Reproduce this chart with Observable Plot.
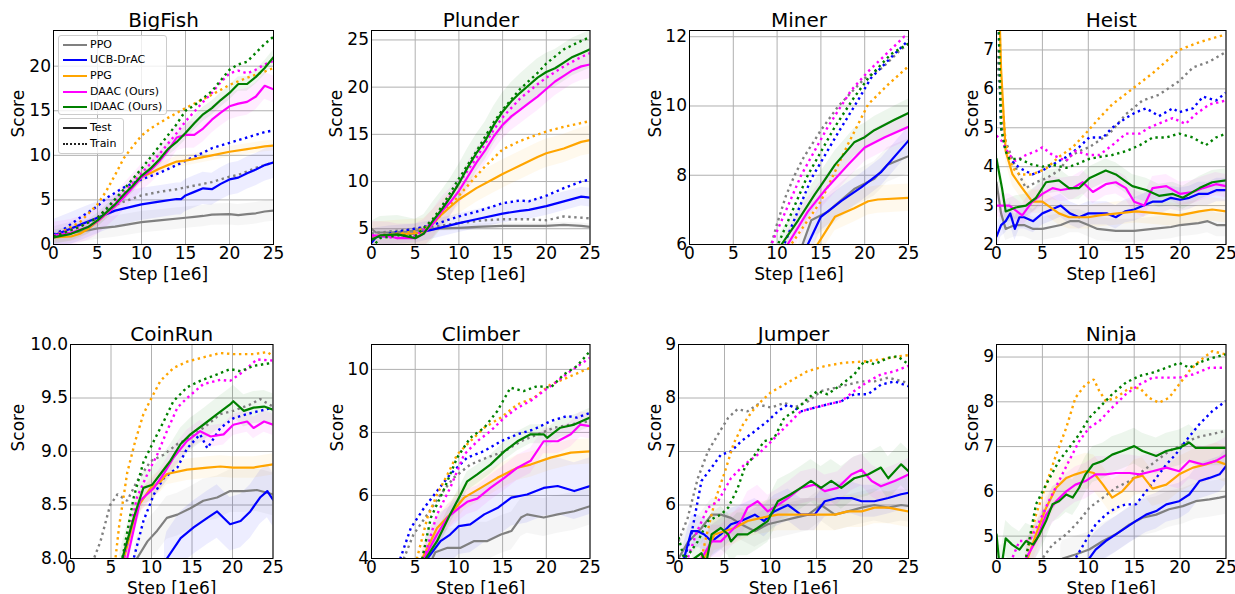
<!DOCTYPE html>
<html><head><meta charset="utf-8">
<script src="https://cdn.jsdelivr.net/npm/d3@7"></script>
<script src="https://cdn.jsdelivr.net/npm/@observablehq/plot@0.6"></script>
<style>
html,body{margin:0;padding:0;background:#fff;}
#chart{position:relative;width:1235px;height:594px;overflow:hidden;font-family:"DejaVu Sans",sans-serif;}
#chart svg{position:absolute;}
.lg{position:absolute;border:1px solid #cccccc;border-radius:3px;background:rgba(255,255,255,0.8);box-sizing:border-box;}
.lgrow{position:absolute;left:0;height:14px;line-height:14px;font-size:11px;white-space:nowrap;color:#000;}
.sw{position:absolute;left:4px;top:6px;width:24px;height:0;}
.lt{position:absolute;left:31px;top:0;}
</style></head><body><div id="chart"></div><script>
const methods = ["PPO","UCB-DrAC","PPG","DAAC (Ours)","IDAAC (Ours)"];
const keys = ["PPO","UCB","PPG","DAAC","IDAAC"];
const methodColors = ["#808080","#0000ff","#ffa500","#ff00ff","#008000"];
const stepTicks = [0,5,10,15,20,25];

// ---------------- BigFish ----------------
const bigFishTest = {
 PPO:[[0,0.8],[2,1.3],[4,1.6],[5,1.8],[7,2.0],[10,2.5],[12,2.7],[15,3.0],[16,3.1],[17,3.2],[18,3.35],[20,3.4],[21,3.3],[22,3.4],[23,3.5],[24,3.7],[25,3.8]],
 UCB:[[0,1.0],[2,1.8],[3,2.2],[5,3.0],[7,3.8],[10,4.5],[12,4.8],[14,5.1],[14.5,5.1],[15,5.5],[16,5.9],[17,6.3],[18,6.2],[19,6.8],[20,7.3],[21,7.5],[22,8.0],[23,8.4],[24,8.9],[25,9.2]],
 PPG:[[0,0.8],[2,0.9],[3,1.2],[4,1.8],[5,2.6],[7,4.3],[8,5.4],[9,6.5],[10,7.6],[11,8.0],[12,8.5],[13,8.9],[14,9.3],[15,9.4],[17,9.8],[18,10.0],[20,10.4],[22,10.7],[24,11.0],[25,11.1]],
 DAAC:[[0,1.0],[2,1.3],[4,2.0],[5,2.6],[7,4.3],[8,5.3],[9,6.4],[10,7.5],[11,8.3],[12,9.3],[13,10.5],[14,12.0],[15,12.3],[16,12.3],[17,13.0],[18,14.0],[19,14.8],[20,15.5],[21,15.8],[22,16.0],[23,16.6],[24,17.8],[25,17.4]],
 IDAAC:[[0,0.8],[2,1.2],[4,2.0],[5,2.7],[7,4.5],[8,5.6],[9,6.6],[10,7.7],[11,8.5],[12,9.5],[13,10.7],[14,11.5],[15,12.5],[16,13.6],[17,14.6],[18,15.3],[19,16.2],[20,17.0],[21,18.0],[22,18.0],[23,18.8],[24,19.8],[25,21.0]]
};
const bigFishTrain = {
 PPO:[[0,0.8],[3,2.0],[5,3.0],[6,3.9],[7,4.4],[8,4.8],[10,5.5],[12,5.9],[14,6.2],[15,6.4],[17,6.8],[18,7.0],[20,7.6],[21,7.8],[22,8.2],[23,8.6],[24,8.9],[25,9.2]],
 UCB:[[0,1.1],[1,1.6],[3,3.0],[5,4.3],[6,5.2],[8,6.4],[10,7.3],[12,8.0],[14,8.9],[15,9.4],[17,10.3],[18,10.8],[20,11.4],[22,12.0],[24,12.6],[25,12.8]],
 PPG:[[0,0.9],[3,2.5],[5,4.5],[6,6.0],[7,7.8],[8,9.7],[9,11.0],[10,12.2],[11,13.0],[12,13.6],[13,14.2],[15,15.3],[17,16.3],[18,16.8],[20,17.9],[22,18.7],[24,19.4],[25,19.8]],
 DAAC:[[0,1.0],[3,2.0],[5,3.0],[6,4.0],[8,5.8],[10,8.0],[12,10.1],[14,12.5],[15,13.8],[17,16.0],[18,17.0],[19,18.2],[20,19.2],[21,19.5],[22,19.2],[23,19.6],[24,20.2],[25,20.6]],
 IDAAC:[[0,0.9],[3,2.0],[5,3.0],[6,4.0],[8,6.2],[10,8.5],[12,11.0],[14,13.5],[15,15.0],[16,15.6],[17,16.4],[18,17.2],[20,19.6],[21,20.2],[22,20.5],[23,21.5],[24,22.5],[25,23.3]]
};
const bigFishBand = [1.2, 1.8, 0.6, 1.5, 0.8];

// ---------------- Plunder ----------------
const plunderTest = {
 PPO:[[0,5.0],[0.5,4.6],[2,4.6],[4,4.7],[5,4.8],[7,5.0],[10,5.1],[12,5.2],[15,5.3],[18,5.3],[20,5.3],[22,5.4],[24,5.3],[25,5.2]],
 UCB:[[0,3.5],[0.5,4.1],[2,4.3],[5,4.5],[7,4.9],[10,5.6],[12,6.0],[15,6.6],[17,6.9],[18,7.0],[20,7.4],[22,7.9],[24,8.4],[25,8.3]],
 PPG:[[0,4.2],[3,4.4],[5,4.5],[6,4.6],[7,5.5],[8,6.5],[9,7.3],[10,8.1],[12,9.3],[14,10.3],[15,10.8],[17,11.7],[19,12.6],[20,13.0],[22,13.5],[24,14.2],[25,14.4]],
 DAAC:[[0,4.3],[2,4.2],[3,4.0],[5,4.0],[6,4.5],[7,5.5],[8,6.8],[9,7.8],[10,9.0],[11,10.5],[12,12.0],[13,13.3],[14,14.8],[15,16.0],[16,16.9],[17,17.6],[18,18.3],[19,19.0],[20,19.8],[21,20.6],[22,21.2],[23,21.8],[24,22.2],[25,22.4]],
 IDAAC:[[0,3.8],[1,4.3],[3,4.4],[5,4.0],[6,4.5],[7,5.8],[8,7.0],[9,8.3],[10,9.8],[11,11.5],[12,13.0],[13,14.3],[14,16.0],[15,17.4],[16,18.5],[17,19.4],[18,20.2],[19,21.0],[20,21.6],[21,22.0],[22,22.6],[23,23.2],[24,23.6],[25,24.0]]
};
const plunderTrain = {
 PPO:[[0,4.5],[5,5.0],[7,5.2],[10,5.6],[13,5.9],[15,6.0],[18,6.0],[20,5.9],[22,6.3],[25,6.1]],
 UCB:[[0,4.0],[3,4.7],[5,5.0],[7,5.4],[10,6.3],[12,6.8],[15,7.7],[17,8.0],[18,7.9],[20,8.5],[22,9.3],[24,10.0],[25,10.2]],
 PPG:[[0,4.2],[5,4.7],[7,5.5],[8,6.5],[10,8.5],[12,10.6],[13,11.6],[15,13.4],[17,14.3],[20,15.3],[22,15.8],[24,16.2],[25,16.4]],
 DAAC:[[0,4.3],[3,4.0],[5,4.2],[7,5.7],[8,7.0],[10,9.8],[12,12.5],[14,15.5],[15,16.8],[17,18.8],[19,20.3],[20,21.0],[22,22.2],[24,23.2],[25,23.6]],
 IDAAC:[[0,3.0],[1,4.0],[3,4.3],[5,4.2],[7,6.0],[8,7.3],[10,10.3],[12,13.2],[14,16.3],[15,17.6],[17,19.8],[19,21.5],[20,22.5],[22,24.0],[24,24.9],[25,25.3]]
};
const plunderBand = [0.3, 1.0, 1.5, 1.5, 2.0];

// ---------------- Miner ----------------
const minerTest = {
 PPO:[[12.5,5.6],[12.9,6.0],[13.9,6.7],[15.8,6.95],[18.8,7.6],[21.1,7.9],[22.6,8.3],[25,8.55]],
 UCB:[[13,5.6],[13.5,6.0],[15,6.8],[17.3,7.25],[19.6,7.65],[21.9,8.1],[25,9.0]],
 PPG:[[14.2,5.6],[14.6,6.0],[16.6,6.8],[18.8,7.05],[20.4,7.25],[21.5,7.3],[25,7.35]],
 DAAC:[[10.5,5.4],[11.2,6.0],[13.5,6.95],[15.4,7.55],[18.1,8.3],[20,8.8],[22.3,9.1],[25,9.4]],
 IDAAC:[[10,5.6],[10.5,6.0],[12.4,6.7],[14.3,7.45],[15,7.7],[16.6,8.3],[18.8,8.95],[20,9.1],[21.1,9.3],[23.4,9.6],[25,9.8]]
};
const minerTrain = {
 PPO:[[9,5.7],[10,6.6],[11,7.4],[12,8.0],[13,8.5],[14,8.9],[15,9.3],[17,10.0],[20,10.8],[22,11.1],[24,11.6],[25,11.8]],
 UCB:[[10.5,5.7],[10.8,6.0],[13.9,7.9],[16.9,9.2],[19.2,10.15],[20.7,10.8],[23,11.4],[25,11.9]],
 PPG:[[11.3,5.7],[11.6,6.0],[15,7.25],[18.1,8.9],[20.4,10.05],[22.6,10.6],[25,11.15]],
 DAAC:[[9.2,5.7],[9.5,6.1],[12.75,8.0],[15.8,9.4],[18.45,10.45],[20.4,11.0],[24.5,12.0],[25,11.95]],
 IDAAC:[[9.8,5.7],[10.1,6.0],[13.5,8.0],[16.6,9.4],[18.8,10.25],[20.4,10.8],[23,11.5],[25,11.8]]
};
const minerBand = [0.5, 0.4, 0.4, 0.4, 0.4];

// ---------------- Heist ----------------
const heistTest = {
 PPO:[[0,3.6],[0.5,2.8],[1,2.4],[2,2.5],[3,2.5],[4,2.4],[5,2.4],[7,2.5],[8,2.6],[9,2.6],[10,2.5],[11,2.4],[13,2.35],[15,2.35],[17,2.4],[19,2.45],[20,2.5],[22,2.55],[23,2.6],[24,2.5],[25,2.5]],
 UCB:[[0,2.2],[0.5,2.5],[1,2.6],[1.5,2.8],[2,2.4],[2.5,2.7],[3,2.7],[4,2.6],[5,2.8],[6,2.9],[7,3.0],[8,2.8],[9,2.7],[10,2.8],[11,2.8],[12,2.8],[13,2.7],[14,2.85],[15,2.9],[16,3.0],[17,3.1],[18,3.1],[19,3.2],[20,3.15],[21,3.2],[22,3.3],[23,3.3],[24,3.4],[25,3.4]],
 PPG:[[0.2,9],[0.5,6.5],[1,4.4],[1.75,3.8],[2.8,3.45],[3.9,3.1],[5,3.1],[6.8,2.8],[7.9,2.7],[10,2.7],[11.2,2.75],[15.2,2.85],[17.7,2.8],[19.9,2.75],[22.1,2.85],[23.5,2.9],[25,2.85]],
 DAAC:[[0,3.0],[1.4,3.0],[2.8,2.75],[3.9,3.1],[5,3.3],[6.1,3.45],[7,3.4],[8.3,3.45],[9.4,3.6],[10.5,3.35],[11.9,3.55],[13,3.6],[14.1,3.45],[15,3.1],[16.1,3.0],[17,3.45],[18.5,3.5],[20,3.3],[21.4,3.35],[22.5,3.45],[23.9,3.55],[25,3.5]],
 IDAAC:[[0,4.2],[0.6,3.45],[1,2.85],[2.1,2.95],[3.2,3.0],[4.3,3.2],[5.4,3.6],[6.8,3.65],[7.9,3.45],[9,3.45],[10.1,3.7],[11.9,3.9],[13,3.8],[14.8,3.5],[16.3,3.4],[17.7,3.25],[19.2,3.3],[20.3,3.2],[22.1,3.45],[23.5,3.6],[25,3.65]]
};
const heistTrain = {
 PPO:[[0,7.0],[0.5,5.5],[1,4.65],[2.1,3.97],[3.2,3.45],[4.3,3.6],[5.4,3.7],[6.8,3.9],[7.9,4.25],[9,4.4],[10.1,4.5],[12.3,4.85],[14.1,5.35],[15.9,5.7],[17.7,5.85],[19.9,6.2],[21.4,6.55],[23.2,6.7],[25,6.95]],
 UCB:[[0.1,9],[0.5,5.0],[1,4.4],[1.4,4.2],[2.5,3.97],[3.9,3.8],[5,3.9],[6.1,4.05],[7.6,4.25],[9,4.5],[10.1,4.75],[11.6,4.75],[12.6,5.0],[14.1,5.25],[15.2,5.4],[16.3,5.5],[17.7,5.3],[19.2,5.5],[19.9,5.4],[21.4,5.5],[22.5,5.8],[23.9,5.7],[25,5.9]],
 PPG:[[0.2,9],[0.5,6.0],[1,4.6],[1.75,3.97],[2.5,3.8],[3.9,3.8],[5.4,3.95],[6.8,4.25],[8.3,4.5],[9.7,4.85],[11.2,5.25],[12.6,5.6],[14.8,6.0],[17,6.4],[19.9,7.0],[22.1,7.2],[25,7.4]],
 DAAC:[[0,4.8],[0.6,4.65],[1.4,4.3],[2.1,4.15],[3.2,4.3],[4.3,4.4],[5,4.5],[6.1,4.3],[7.6,4.15],[8.6,4.4],[10.1,4.3],[11.2,4.3],[12.6,4.55],[14.1,4.85],[15.6,4.85],[16.6,5.0],[18.1,5.15],[19.2,5.25],[20.6,5.1],[21.7,5.35],[23.2,5.6],[25,5.7]],
 IDAAC:[[0.1,9],[0.5,5.0],[1,4.4],[1.4,4.2],[2.5,4.2],[3.9,4.05],[5,4.0],[6.1,4.05],[7.6,3.97],[8.6,4.05],[10.1,4.2],[11.2,4.25],[12.6,4.3],[14.1,4.4],[15.6,4.55],[17,4.75],[18.5,4.75],[19.9,4.85],[21.4,4.75],[22.8,4.55],[23.9,4.75],[25,4.85]]
};
const heistBand = [0.3, 0.3, 0.3, 0.3, 0.3];

// ---------------- CoinRun ----------------
const coinRunTest = {
 PPO:[[7.9,7.9],[8.2,8.0],[9.5,8.16],[10.7,8.26],[11.9,8.38],[13.2,8.41],[14.8,8.47],[16.4,8.54],[18.1,8.57],[19.7,8.63],[21.4,8.63],[23,8.64],[25,8.6]],
 UCB:[[11.6,7.9],[11.9,8.0],[13.6,8.19],[15.2,8.29],[16.9,8.38],[18.1,8.44],[19.7,8.32],[21,8.35],[22.2,8.44],[23.4,8.57],[24.3,8.63],[25,8.55]],
 PPG:[[6.3,7.9],[6.6,8.0],[8.2,8.47],[9.9,8.66],[11.1,8.72],[11.9,8.79],[14.4,8.83],[16.9,8.85],[18.5,8.86],[20.1,8.85],[22.6,8.85],[25,8.88]],
 DAAC:[[6.7,7.9],[7,8.0],[8.6,8.54],[10.3,8.66],[11.5,8.79],[12.7,8.94],[14.4,9.1],[16,9.19],[17.3,9.14],[18.9,9.16],[20.1,9.25],[21.8,9.28],[22.6,9.22],[23.9,9.28],[25,9.25]],
 IDAAC:[[6.1,7.9],[6.4,8.0],[7.8,8.38],[9,8.66],[10.1,8.69],[11.1,8.79],[12.3,8.91],[13.6,9.07],[14.8,9.16],[16.4,9.25],[18.1,9.35],[19.7,9.44],[20.1,9.47],[21.4,9.38],[22.6,9.41],[23.9,9.42],[25,9.39]]
};
const coinRunTrain = {
 PPO:[[2.6,7.9],[2.9,8.0],[3.7,8.16],[4.9,8.5],[5.8,8.6],[7,8.54],[8.2,8.72],[9.9,8.91],[11.5,8.97],[13.2,9.07],[14.8,9.13],[16.9,9.25],[18.5,9.35],[20.1,9.38],[22.2,9.44],[23.4,9.49],[25,9.42]],
 UCB:[[7.5,7.9],[7.8,8.0],[9,8.35],[10.3,8.6],[11.5,8.75],[13.2,8.85],[14.4,9.03],[16,9.16],[16.9,9.03],[18.5,9.22],[20.1,9.31],[21.8,9.35],[23.4,9.38],[25,9.41]],
 PPG:[[5.3,7.9],[5.55,8.0],[6,8.3],[7,8.8],[8,9.1],[9,9.35],[10,9.5],[11.1,9.66],[12.7,9.78],[14.4,9.84],[16.9,9.89],[18.5,9.92],[20.1,9.91],[22.6,9.91],[24.3,9.93],[25,9.89]],
 DAAC:[[6.3,7.9],[6.6,8.0],[8.2,8.57],[9.5,8.79],[10.7,8.97],[11.9,9.19],[13.2,9.41],[14.4,9.5],[16.4,9.63],[18.5,9.67],[19.7,9.66],[21.4,9.75],[23,9.86],[25,9.85]],
 IDAAC:[[6.1,7.9],[6.4,8.0],[7.8,8.57],[9,8.9],[10.3,9.1],[11.5,9.28],[12.7,9.47],[14.4,9.6],[16,9.66],[18.1,9.72],[19.7,9.77],[21,9.75],[22.6,9.8],[25,9.83]]
};
const coinRunBand = [0.2, 0.25, 0.1, 0.1, 0.15];

// ---------------- Climber ----------------
const climberTest = {
 PPO:[[6.8,3.9],[7.3,4.2],[8.7,4.34],[10.2,4.34],[11.7,4.55],[13.2,4.55],[14.8,4.76],[16,4.87],[17.1,5.3],[17.8,5.4],[19.7,5.3],[21.3,5.4],[23.2,5.5],[25,5.66]],
 UCB:[[6.2,3.8],[6.4,4.0],[7.9,4.55],[9,4.76],[10,5.03],[11.3,5.08],[12.9,5.4],[14.4,5.6],[16,5.93],[17.8,6.03],[19.7,6.24],[21.3,6.3],[23.2,6.14],[25,6.3]],
 PPG:[[5.6,3.8],[5.8,4.0],[7.5,4.97],[9,5.4],[10.6,5.93],[12.5,6.24],[14.4,6.56],[16.7,6.88],[18.2,6.98],[20.5,7.2],[22.8,7.36],[25,7.4]],
 DAAC:[[5.8,3.8],[6,4.0],[7.5,4.76],[8.7,5.3],[10,5.6],[10.95,5.8],[12.1,5.9],[13.6,6.24],[15.2,6.56],[16.7,6.88],[18.2,7.1],[19.7,7.72],[21.3,7.72],[22.8,7.94],[23.9,8.25],[25,8.2]],
 IDAAC:[[6,3.8],[6.2,4.0],[7.5,4.55],[9,5.4],[10.2,6.03],[10.95,6.45],[12.1,6.67],[13.6,6.98],[15.2,7.4],[16.7,7.72],[18.2,7.94],[19.7,7.94],[20.1,7.83],[21.6,8.15],[23.2,8.25],[25,8.47]]
};
const climberTrain = {
 PPO:[[3.5,3.8],[3.7,4.0],[4.8,4.76],[6.4,5.4],[7.9,6.03],[9.4,6.56],[11.3,6.98],[13.2,7.2],[15.2,7.4],[17.1,7.72],[19,7.94],[20.9,8.15],[22.8,8.25],[25,8.36]],
 UCB:[[3.1,3.8],[3.3,4.0],[4.5,4.97],[6,5.6],[7.5,6.14],[9,6.67],[10.95,7.2],[12.9,7.41],[14.8,7.72],[16.7,7.94],[18.6,8.1],[20.5,8.36],[22.4,8.52],[23.5,8.47],[25,8.62]],
 PPG:[[5,3.8],[5.2,4.0],[6.4,5.3],[7.5,6.03],[8.7,6.67],[9.8,7.3],[11.3,7.72],[12.9,8.15],[14.8,8.47],[16.7,8.89],[18.6,9.1],[20.5,9.52],[22.4,9.74],[25,10.05]],
 DAAC:[[5.8,3.8],[6,4.0],[7.5,5.4],[9,6.24],[10.6,7.3],[12.1,7.72],[13.6,8.04],[15.2,8.47],[16.7,8.78],[18.2,9.0],[19.7,9.31],[21.3,9.63],[22.8,9.95],[25,10.37]],
 IDAAC:[[5.6,3.8],[5.8,4.0],[6.8,5.3],[8.3,6.2],[9.8,7.2],[11.3,7.83],[12.9,8.15],[14.4,8.68],[15.9,9.42],[17.4,9.31],[19,9.47],[20.5,9.42],[22,9.84],[23.5,10.1],[25,10.58]]
};
const climberBand = [0.6, 0.9, 0.4, 0.4, 0.3];

// ---------------- Jumper ----------------
const jumperTest = {
 PPO:[[0,5.0],[1,5.3],[2.5,5.57],[3.6,5.82],[4.6,5.82],[5.7,5.76],[6.8,5.64],[8.3,5.51],[9.7,5.64],[11.2,5.7],[12.6,5.76],[14.1,5.82],[15.5,6.0],[17,5.82],[18.4,5.88],[19.9,5.95],[21.3,6.0],[22.8,5.95],[24.2,6.0],[25,5.98]],
 UCB:[[0.4,4.8],[0.6,5.0],[1.4,5.51],[2.1,5.51],[2.8,5.45],[3.6,5.32],[4.6,5.45],[5.7,5.64],[6.8,5.7],[8.3,5.82],[9.3,5.7],[10.4,5.88],[11.9,6.0],[13.3,5.82],[14.8,5.82],[15.9,6.07],[17.3,6.13],[18.8,6.13],[19.9,6.07],[21.3,6.07],[22.8,6.13],[24.2,6.2],[25,6.23]],
 PPG:[[2.6,4.8],[2.8,5.0],[3.9,5.45],[5,5.51],[6.1,5.57],[7.5,5.7],[9,5.76],[10.8,5.82],[12.6,5.82],[14.1,5.82],[15.5,5.82],[17,5.82],[18.4,5.88],[19.9,5.88],[21.3,5.95],[22.8,5.95],[25,5.88]],
 DAAC:[[2.3,4.8],[2.5,5.0],[3.6,5.32],[4.6,5.32],[5.7,5.51],[6.8,5.7],[7.5,5.95],[8.6,6.07],[9.7,5.88],[10.8,6.0],[11.9,6.13],[13.3,6.32],[14.8,6.38],[15.9,6.26],[17.3,6.32],[18.8,6.57],[19.9,6.66],[21,6.45],[22,6.35],[23.5,6.45],[25,6.57]],
 IDAAC:[[1.5,4.8],[1.7,5.0],[2.5,5.1],[3,4.9],[3.6,5.45],[4.6,5.57],[5.4,5.45],[5.7,5.32],[6.4,5.45],[7.5,5.45],[8.6,5.57],[9.7,5.7],[10.8,6.07],[12.2,6.2],[13.3,6.32],[14.4,6.45],[15.5,6.32],[16.6,6.45],[17.7,6.32],[19.1,6.5],[20.6,6.57],[22,6.7],[22.8,6.5],[24.2,6.76],[25,6.63]]
};
const jumperTrain = {
 PPO:[[0,5.32],[1,5.76],[2.1,6.5],[3.2,7.0],[4.3,7.32],[5.4,7.63],[6.4,7.79],[7.5,7.75],[8.6,7.88],[10.1,7.82],[11.5,7.91],[12.6,7.82],[14.1,7.94],[15.5,8.13],[17,8.19],[18.4,8.25],[19.9,8.31],[21.3,8.31],[22.8,8.38],[25,8.28]],
 UCB:[[0.5,4.8],[0.65,5.0],[1.4,5.45],[2.5,6.45],[3.6,6.7],[4.6,6.94],[5.7,7.0],[6.8,7.19],[8.3,7.38],[9.7,7.57],[10.8,7.75],[11.9,7.88],[13.3,7.75],[14.8,7.82],[16.2,7.88],[17.7,7.94],[19.1,8.07],[20.6,8.07],[22,8.25],[23.5,8.31],[25,8.22]],
 PPG:[[2.3,4.8],[2.5,5.0],[3,5.4],[4,6.1],[5,6.6],[6,7.15],[7,7.5],[8,7.75],[9,7.94],[10,8.1],[12,8.3],[14,8.5],[16,8.6],[18,8.66],[20,8.68],[22,8.72],[24,8.78],[25,8.8]],
 DAAC:[[0.8,4.8],[1,5.0],[2,5.5],[3.2,5.95],[4.3,6.07],[5.7,6.5],[7.2,6.76],[8.6,6.94],[10.1,7.19],[11.5,7.44],[13.3,7.75],[14.8,7.82],[16.2,7.88],[17.7,7.94],[19.1,8.13],[20.6,8.31],[22,8.44],[23.5,8.5],[25,8.6]],
 IDAAC:[[0,5.4],[0.6,5.0],[1.2,5.1],[2.1,5.32],[3.2,5.7],[4.6,5.82],[5.4,5.95],[6.4,6.3],[7.2,6.7],[8.3,6.94],[9.3,7.19],[10.4,7.25],[11.5,7.63],[12.6,7.75],[14.1,8.0],[15.1,8.13],[16.2,8.07],[17.7,8.25],[19.1,8.44],[20.2,8.69],[21.3,8.63],[22.8,8.75],[23.8,8.78],[25,8.63]]
};
const jumperBand = [0.3, 0.3, 0.3, 0.3, 0.4];

// ---------------- Ninja ----------------
const ninjaTest = {
 PPO:[[7,4.4],[7.2,4.5],[8.6,4.59],[10.1,4.7],[11.6,4.89],[13,5.04],[14.5,5.26],[15.9,5.41],[17.4,5.48],[18.8,5.6],[20.3,5.67],[21.7,5.78],[23.2,5.82],[24.3,5.86],[25,5.89]],
 UCB:[[9.9,4.4],[10.1,4.5],[10.8,4.7],[11.9,4.89],[13,5.04],[14.1,5.19],[15.2,5.34],[16.3,5.48],[17.4,5.56],[18.5,5.71],[19.9,5.78],[21,5.93],[22.1,6.23],[23.2,6.3],[24.3,6.38],[25,6.56]],
 PPG:[[3.3,4.4],[3.4,4.5],[4.3,5.04],[5.4,5.63],[6.5,6.08],[7.6,6.3],[8.6,6.38],[9.7,6.45],[10.6,6.41],[11.6,6.15],[12.6,5.86],[13.7,6.0],[15,6.3],[15.9,6.35],[17,6.06],[18.5,6.15],[19.9,6.38],[21.4,6.53],[22.8,6.6],[23.9,6.68],[25,6.6]],
 DAAC:[[3.1,4.4],[3.2,4.5],[4.3,4.89],[5.4,5.48],[6.5,5.78],[7.6,6.0],[8.6,6.15],[9.7,6.23],[10.8,6.38],[11.9,6.38],[13,6.41],[14.5,6.41],[15.6,6.38],[17,6.45],[18.5,6.53],[19.9,6.45],[21,6.68],[22.5,6.6],[23.9,6.68],[25,6.81]],
 IDAAC:[[0,5.04],[0.3,4.4],[0.6,4.4],[1,4.95],[1.7,4.81],[2.5,4.7],[3.2,4.89],[4,4.81],[4.7,5.04],[5.4,5.34],[6.1,5.71],[6.8,5.78],[7.6,5.93],[8.3,5.86],[9,6.08],[9.7,6.38],[10.5,6.6],[11.6,6.68],[12.6,6.82],[13.7,6.9],[15,7.01],[15.9,6.9],[17.4,6.79],[18.5,6.9],[19.9,6.97],[21,7.09],[21.7,6.97],[23.2,6.97],[25,6.97]]
};
const ninjaTrain = {
 PPO:[[4.8,4.4],[5,4.5],[6.1,4.81],[7.6,5.04],[9,5.34],[10.1,5.63],[11.6,5.86],[13,6.08],[14.5,6.23],[15.9,6.45],[17.4,6.68],[18.8,6.9],[20.3,7.05],[21.7,7.2],[23.2,7.27],[25,7.35]],
 UCB:[[8.4,4.4],[8.6,4.5],[9.7,4.89],[10.8,5.26],[11.9,5.48],[13,5.63],[14.1,5.71],[15.2,5.71],[16.3,6.0],[17.4,6.3],[18.5,6.6],[19.5,6.82],[20.6,7.12],[22.1,7.5],[23.5,7.79],[25,8.02]],
 PPG:[[3.1,4.4],[3.2,4.5],[4.3,5.48],[5.4,6.15],[6.5,6.82],[7.6,7.42],[8.6,8.09],[9.7,8.39],[10.6,8.5],[11.2,8.24],[11.9,8.02],[13,8.09],[14.5,8.31],[15.6,8.31],[16.6,8.09],[17.7,7.98],[18.8,8.09],[19.9,8.39],[21,8.69],[22.1,8.91],[23.5,9.13],[25,9.06]],
 DAAC:[[1.6,4.4],[1.7,4.5],[2.5,4.89],[3.6,4.89],[4.7,5.34],[5.7,5.78],[6.8,6.23],[7.9,6.68],[9,7.12],[10.1,7.42],[11.2,7.57],[12.6,7.87],[14.1,8.17],[15.6,8.39],[17,8.54],[18.5,8.54],[19.9,8.54],[21.4,8.61],[23.2,8.76],[25,8.76]],
 IDAAC:[[3.1,4.4],[3.2,4.5],[4.3,5.71],[5.4,6.15],[6.8,6.68],[7.9,6.97],[9,7.27],[10.1,7.64],[11.2,7.87],[12.6,8.17],[14.1,8.43],[15.6,8.58],[17,8.65],[18.5,8.76],[19.9,8.87],[21,8.76],[22.5,8.91],[23.5,8.98],[25,9.06]]
};
const ninjaBand = [0.4, 0.4, 0.4, 0.4, 0.4];

// ---------------- layout (frame edges in px) ----------------
const panels = [
 {title:"BigFish", test:bigFishTest, train:bigFishTrain, band:bigFishBand, yDomain:[0,24], yTicks:[0,5,10,15,20], fmt:d3.format("d"), frame:[52.5,29.5,272.5,243.5], scoreDx:-29.2},
 {title:"Plunder", test:plunderTest, train:plunderTrain, band:plunderBand, yDomain:[3.33,26], yTicks:[5,10,15,20,25], fmt:d3.format("d"), frame:[371,29.5,589.5,243.5], scoreDx:-29.3},
 {title:"Miner", test:minerTest, train:minerTrain, band:minerBand, yDomain:[6,12.18], yTicks:[6,8,10,12], fmt:d3.format("d"), frame:[688.5,29.5,907.5,243.5], scoreDx:-28.3},
 {title:"Heist", test:heistTest, train:heistTrain, band:heistBand, yDomain:[2,7.5], yTicks:[2,3,4,5,6,7], fmt:d3.format("d"), frame:[995.5,29.5,1225,243.5], scoreDx:-19},
 {title:"CoinRun", test:coinRunTest, train:coinRunTrain, band:coinRunBand, yDomain:[8,10], yTicks:[8,8.5,9,9.5,10], fmt:d3.format(".1f"), frame:[70,343.5,272.5,557.5], scoreDx:-46.7},
 {title:"Climber", test:climberTest, train:climberTrain, band:climberBand, yDomain:[4,10.79], yTicks:[4,6,8,10], fmt:d3.format("d"), frame:[371,343.5,589.5,557.5], scoreDx:-29},
 {title:"Jumper", test:jumperTest, train:jumperTrain, band:jumperBand, yDomain:[5,9], yTicks:[5,6,7,8,9], fmt:d3.format("d"), frame:[677.5,343.5,907.5,557.5], scoreDx:-17.3},
 {title:"Ninja", test:ninjaTest, train:ninjaTrain, band:ninjaBand, yDomain:[4.5,9.28], yTicks:[5,6,7,8,9], fmt:d3.format("d"), frame:[995.5,343.5,1225,557.5], scoreDx:-19}
];

const chart = document.getElementById("chart");
const ML = 75, MT = 35, MR = 14, MB = 45;
const FONT = "DejaVu Sans";

function rows(pairs) { return pairs.map(([step, score]) => ({step, score})); }

for (const p of panels) {
  const [fl, ft, fr, fb] = p.frame;
  const width = fr - fl + ML + MR, height = fb - ft + MT + MB;
  const marks = [
    Plot.gridX(stepTicks, {stroke:"#b0b0b0", strokeOpacity:1, strokeWidth:1}),
    Plot.gridY(p.yTicks, {stroke:"#b0b0b0", strokeOpacity:1, strokeWidth:1})
  ];
  keys.forEach((k, i) => {
    const w = p.band[i];
    marks.push(Plot.areaY(rows(p.test[k]), {x:"step", y1:d => d.score - w, y2:d => d.score + w, fill:methodColors[i], fillOpacity:0.07, clip:true}));
  });
  keys.forEach((k, i) => {
    marks.push(Plot.line(rows(p.test[k]), {x:"step", y:"score", stroke:methodColors[i], strokeWidth:2.2, clip:true}));
    marks.push(Plot.line(rows(p.train[k]), {x:"step", y:"score", stroke:methodColors[i], strokeWidth:2.4, strokeDasharray:"2.4,3.6", strokeLinecap:"butt", strokeLinejoin:"miter", clip:true}));
  });
  marks.push(
    Plot.frame({stroke:"#000", strokeWidth:1}),
    Plot.axisX(stepTicks, {tickSize:0, tickPadding:2.5, fontSize:17, label:null, tickFormat:d3.format("d")}),
    Plot.axisY(p.yTicks, {tickSize:0, tickPadding:2.5, fontSize:17, label:null, tickFormat:p.fmt}),
    Plot.text([p.title], {text:d => d, frameAnchor:"top", dy:-3.6, lineAnchor:"bottom", fontSize:20}),
    Plot.text(["Step [1e6]"], {text:d => d, frameAnchor:"bottom", dy:35, lineAnchor:"bottom", fontSize:17}),
    Plot.text(["Score"], {text:d => d, frameAnchor:"left", dx:p.scoreDx, rotate:-90, lineAnchor:"bottom", fontSize:17})
  );
  const svg = Plot.plot({
    width, height, marginLeft:ML, marginTop:MT, marginRight:MR, marginBottom:MB,
    style:{background:"transparent", overflow:"visible", fontFamily:FONT, fontSize:"17px", color:"#000"},
    x:{domain:[0,25]},
    y:{domain:p.yDomain},
    marks
  });
  svg.style.left = (fl - ML) + "px";
  svg.style.top = (ft - MT) + "px";
  svg.style.maxWidth = "none";
  chart.appendChild(svg);
}

// ---------------- legend (in BigFish panel) ----------------
function legendBox(left, top, w, h, entries) {
  const box = document.createElement("div");
  box.className = "lg";
  Object.assign(box.style, {left:left+"px", top:top+"px", width:w+"px", height:h+"px"});
  entries.forEach(e => {
    const r = document.createElement("div");
    r.className = "lgrow";
    r.style.top = (e.y - top - 7 - 1) + "px";
    const sw = document.createElement("span");
    sw.className = "sw";
    sw.style.borderTop = "2px " + e.dash + " " + e.color;
    const t = document.createElement("span");
    t.className = "lt";
    t.textContent = e.label;
    r.appendChild(sw); r.appendChild(t);
    box.appendChild(r);
  });
  chart.appendChild(box);
}
const legendRowsY = [44.5, 60.3, 76, 91.7, 107.3];
legendBox(58, 35, 109, 80, methods.map((m, i) => ({label:m, color:methodColors[i], dash:"solid", y:legendRowsY[i]})));
legendBox(58, 117.5, 66, 36, [
  {label:"Test", color:"#222", dash:"solid", y:127.5},
  {label:"Train", color:"#222", dash:"dotted", y:143.5}
]);
</script></body></html>
